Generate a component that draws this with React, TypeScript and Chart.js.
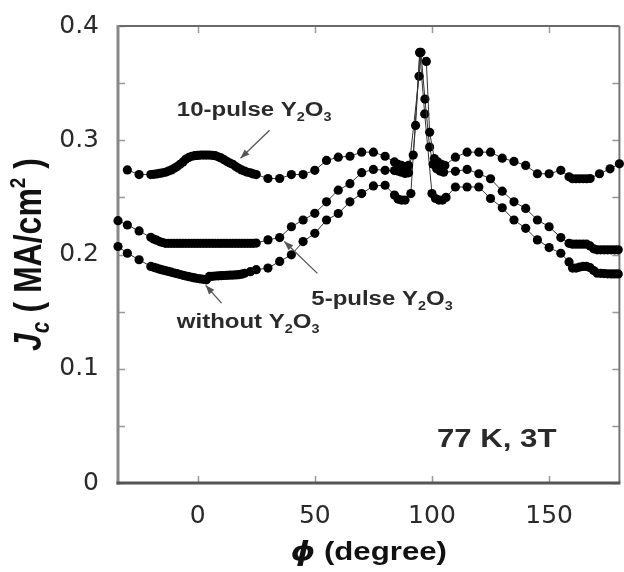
import React, { useEffect, useRef } from 'react';
import { Chart, registerables } from 'chart.js';

Chart.register(...registerables);

// ---------- data ----------
const phi10 = [-30, -25, -20, -18.75, -17.5, -16.25, -15, -13.75, -12.5, -11.25, -10, -8.75, -7.5, -6.25, -5, -3.75, -2.5, -1.25, 0, 1.25, 2.5, 3.75, 5, 6.25, 7.5, 8.75, 10, 11.25, 12.5, 13.75, 15, 16.25, 17.5, 18.75, 20, 21.25, 22.5, 23.75, 25, 30, 35, 40, 45, 50, 55, 60, 65, 70, 75, 80, 84, 85.5, 87, 88.5, 90, 92, 93, 94.8, 97.6, 99, 101, 102.5, 104, 105.5, 110, 115, 120, 125, 130, 135, 140, 145, 150, 155, 158.5, 160, 161.5, 163, 164.5, 166, 167.5, 171.5, 176, 180];
const jc10 = [0.274, 0.270, 0.270, 0.2702, 0.2705, 0.271, 0.2715, 0.272, 0.273, 0.274, 0.2755, 0.277, 0.279, 0.281, 0.2835, 0.285, 0.286, 0.2865, 0.2867, 0.287, 0.287, 0.287, 0.287, 0.2868, 0.2865, 0.2855, 0.2845, 0.283, 0.2815, 0.280, 0.279, 0.277, 0.2755, 0.274, 0.273, 0.272, 0.2715, 0.2705, 0.270, 0.2665, 0.2665, 0.270, 0.270, 0.2737, 0.2823, 0.2852, 0.286, 0.2896, 0.2896, 0.286, 0.281, 0.279, 0.278, 0.277, 0.278, 0.287, 0.313, 0.3765, 0.369, 0.307, 0.284, 0.281, 0.279, 0.278, 0.2852, 0.2896, 0.2896, 0.2896, 0.2843, 0.2815, 0.278, 0.2707, 0.2707, 0.2737, 0.268, 0.2663, 0.2663, 0.2663, 0.2663, 0.2663, 0.2665, 0.2707, 0.275, 0.2794];

const phi5 = [-34, -30, -25, -20, -18.75, -17.5, -16.25, -15, -13.75, -12.5, -11.25, -10, -8.75, -7.5, -6.25, -5, -3.75, -2.5, -1.25, 0, 1.25, 2.5, 3.75, 5, 6.25, 7.5, 8.75, 10, 11.25, 12.5, 13.75, 15, 16.25, 17.5, 18.75, 20, 21.25, 22.5, 23.75, 25, 30, 35, 40, 45, 50, 55, 60, 65, 70, 75, 80, 84, 85.5, 87, 88.5, 90, 94.5, 95.3, 97, 99, 100.5, 102, 103.5, 105, 110, 115, 120, 125, 130, 135, 140, 145, 150, 155, 158.5, 160, 161.5, 163, 164.5, 166, 167.5, 169, 170.5, 172, 173.5, 175, 176.5, 178, 179.5];
const jc5 = [0.2296, 0.2258, 0.2206, 0.215, 0.2135, 0.2125, 0.2113, 0.2105, 0.2098, 0.2098, 0.2098, 0.2098, 0.2098, 0.2098, 0.2098, 0.2098, 0.2098, 0.2098, 0.2098, 0.2098, 0.2098, 0.2098, 0.2098, 0.2098, 0.2098, 0.2098, 0.2098, 0.2098, 0.2098, 0.2098, 0.2098, 0.2098, 0.2098, 0.2098, 0.2098, 0.2098, 0.2098, 0.2098, 0.2098, 0.2100, 0.2128, 0.2148, 0.2243, 0.2302, 0.236, 0.2461, 0.2563, 0.262, 0.2716, 0.2745, 0.2737, 0.2735, 0.273, 0.272, 0.271, 0.2715, 0.356, 0.377, 0.336, 0.294, 0.279, 0.275, 0.273, 0.272, 0.2728, 0.2745, 0.2707, 0.2663, 0.2554, 0.2461, 0.2403, 0.2302, 0.2243, 0.2148, 0.2098, 0.209, 0.209, 0.209, 0.209, 0.209, 0.2075, 0.205, 0.2041, 0.2041, 0.2041, 0.2041, 0.2041, 0.2041, 0.2041];

const phi0 = [-34, -30, -25, -20, -18.75, -17.5, -16.25, -15, -13.75, -12.5, -11.25, -10, -8.75, -7.5, -6.25, -5, -3.75, -2.5, -1.25, 0, 1.25, 2.5, 3.75, 5, 6.25, 7.5, 8.75, 10, 11.25, 12.5, 13.75, 15, 16.25, 17.5, 18.75, 20, 22.5, 25, 30, 35, 40, 45, 50, 55, 60, 65, 70, 75, 80, 84, 85.5, 87, 88.5, 91, 94.8, 96.9, 100, 101.5, 103, 104.5, 106, 110, 115, 120, 125, 130, 135, 140, 145, 150, 155, 158.5, 160, 161.5, 163, 164.5, 166, 167.5, 169, 170.5, 172, 173.5, 175, 176.5, 178, 179.5];
const jc0 = [0.207, 0.2011, 0.1954, 0.1896, 0.1888, 0.188, 0.1872, 0.1865, 0.1858, 0.1852, 0.1845, 0.1838, 0.1832, 0.1825, 0.1818, 0.1812, 0.1806, 0.18, 0.1795, 0.179, 0.1786, 0.1783, 0.1778, 0.1808, 0.1809, 0.1812, 0.1813, 0.1815, 0.1816, 0.1818, 0.1819, 0.182, 0.1821, 0.1823, 0.1828, 0.1835, 0.185, 0.1867, 0.1881, 0.1939, 0.1997, 0.2113, 0.2185, 0.2302, 0.2359, 0.2461, 0.2533, 0.26, 0.2606, 0.252, 0.2485, 0.2476, 0.2476, 0.2533, 0.377, 0.323, 0.2533, 0.249, 0.2476, 0.2476, 0.250, 0.2591, 0.2591, 0.2591, 0.249, 0.2409, 0.2302, 0.2229, 0.2128, 0.2061, 0.2011, 0.1935, 0.1881, 0.1881, 0.1890, 0.1896, 0.1896, 0.1885, 0.186, 0.1837, 0.1835, 0.1833, 0.1831, 0.1830, 0.1830, 0.1830];

const xTickValues = [0, 50, 100, 150];
const yTickValues = [0, 0.1, 0.2, 0.3, 0.4];
const yMinorValues = [0.05, 0.15, 0.25, 0.35];
const X_MIN = -34;
const X_MAX = 180;

const toPoints = (xs: number[], ys: number[]) => xs.map((x, i) => ({ x, y: ys[i] }));

// ---------- drawing helpers ----------
type Run = { t: string; f: string; dy?: number };
const SANS = '"Liberation Sans", Arial, sans-serif';
const STRETCH = 1.2;

function runsWidth(ctx: CanvasRenderingContext2D, runs: Run[]) {
  let w = 0;
  for (const r of runs) {
    ctx.font = r.f;
    w += ctx.measureText(r.t).width;
  }
  return w;
}

function drawRuns(ctx: CanvasRenderingContext2D, runs: Run[], x: number, y: number, align: 'left' | 'center' = 'left') {
  ctx.save();
  ctx.translate(x, y);
  ctx.scale(STRETCH, 1);
  ctx.textBaseline = 'alphabetic';
  ctx.textAlign = 'left';
  let cx = align === 'center' ? -runsWidth(ctx, runs) / 2 : 0;
  for (const r of runs) {
    ctx.font = r.f;
    ctx.fillText(r.t, cx, r.dy || 0);
    cx += ctx.measureText(r.t).width;
  }
  ctx.restore();
}

function arrow(ctx: CanvasRenderingContext2D, x1: number, y1: number, x2: number, y2: number) {
  ctx.save();
  ctx.strokeStyle = '#555';
  ctx.fillStyle = '#555';
  ctx.lineWidth = 1.3;
  ctx.beginPath();
  ctx.moveTo(x1, y1);
  ctx.lineTo(x2, y2);
  ctx.stroke();
  const a = Math.atan2(y2 - y1, x2 - x1);
  const L = 9, H = 3.5;
  ctx.beginPath();
  ctx.moveTo(x2, y2);
  ctx.lineTo(x2 - L * Math.cos(a) + H * Math.sin(a), y2 - L * Math.sin(a) - H * Math.cos(a));
  ctx.lineTo(x2 - L * Math.cos(a) - H * Math.sin(a), y2 - L * Math.sin(a) + H * Math.cos(a));
  ctx.closePath();
  ctx.fill();
  ctx.restore();
}

const label = (main: string, size: number): Run[] => [
  { t: main + 'Y', f: `bold ${size}px ${SANS}` },
  { t: '2', f: `bold ${Math.round(size * 0.62)}px ${SANS}`, dy: 5 },
  { t: 'O', f: `bold ${size}px ${SANS}` },
  { t: '3', f: `bold ${Math.round(size * 0.62)}px ${SANS}`, dy: 5 },
];

const decorPlugin = {
  id: 'decor',
  beforeDatasetsDraw(chart: any) {
    const { ctx, chartArea: a, scales } = chart;
    const xs = scales.x, ys = scales.y;
    ctx.save();
    // inward tick marks
    ctx.strokeStyle = '#999';
    ctx.lineWidth = 1.5;
    ctx.beginPath();
    for (const v of xTickValues) {
      const px = Math.round(xs.getPixelForValue(v)) + 0.5;
      ctx.moveTo(px, a.bottom); ctx.lineTo(px, a.bottom - 7);
      ctx.moveTo(px, a.top); ctx.lineTo(px, a.top + 7);
    }
    for (const v of [...yTickValues, ...yMinorValues]) {
      const py = Math.round(ys.getPixelForValue(v)) + 0.5;
      ctx.moveTo(a.left, py); ctx.lineTo(a.left + 7, py);
      ctx.moveTo(a.right, py); ctx.lineTo(a.right - 7, py);
    }
    ctx.stroke();
    // frame
    const seg = (c: string, w: number, x1: number, y1: number, x2: number, y2: number) => {
      ctx.strokeStyle = c; ctx.lineWidth = w;
      ctx.beginPath(); ctx.moveTo(x1, y1); ctx.lineTo(x2, y2); ctx.stroke();
    };
    seg('#6a6a6a', 2, a.left, a.top, a.right, a.top);
    seg('#777', 2, a.right, a.top, a.right, a.bottom);
    seg('#888', 3, a.left, a.top - 1, a.left, a.bottom + 1.5);
    seg('#555', 3, a.left - 1.5, a.bottom, a.right + 1, a.bottom);
    ctx.restore();
  },
  afterDraw(chart: any) {
    const { ctx, chartArea: a, scales } = chart;
    const X = (v: number) => scales.x.getPixelForValue(v);
    const Y = (v: number) => scales.y.getPixelForValue(v);
    ctx.save();
    ctx.fillStyle = '#2a2a2a';

    // annotations (anchored in data coordinates)
    drawRuns(ctx, label('10-pulse ', 20), X(-8.9), Y(0.321));
    arrow(ctx, X(30.7), Y(0.3087), X(18.3), Y(0.2843));

    drawRuns(ctx, label('5-pulse ', 20), X(48.5), Y(0.156));
    arrow(ctx, X(51.1), Y(0.1835), X(37.0), Y(0.2113));

    drawRuns(ctx, label('without ', 20), X(-8.9), Y(0.1357));
    arrow(ctx, X(10.2), Y(0.1574), X(3.4), Y(0.173));

    drawRuns(ctx, [{ t: '77 K, 3T', f: `bold 26px ${SANS}` }], X(102.1), Y(0.0313));

    // x-axis title
    ctx.fillStyle = '#111';
    drawRuns(ctx, [
      { t: '\u03D5', f: 'italic bold 26px "DejaVu Sans", sans-serif' },
      { t: ' (degree)', f: `bold 26px ${SANS}` },
    ], (a.left + a.right) / 2, 560, 'center');

    // y-axis title (rotated)
    const yRuns: Run[] = [
      { t: 'J', f: `italic bold 32px ${SANS}` },
      { t: 'c', f: `italic bold 21px ${SANS}`, dy: 7 },
      { t: ' ( MA/cm', f: `bold 32px ${SANS}` },
      { t: '2', f: `bold 19px ${SANS}`, dy: -13 },
      { t: ' )', f: `bold 32px ${SANS}` },
    ];
    ctx.save();
    ctx.translate(41, (a.top + a.bottom) / 2);
    ctx.scale(STRETCH, 1);
    ctx.rotate(-Math.PI / 2);
    ctx.textBaseline = 'alphabetic';
    let cx = -runsWidth(ctx, yRuns) / 2;
    for (const r of yRuns) {
      ctx.font = r.f;
      ctx.fillText(r.t, cx, r.dy || 0);
      cx += ctx.measureText(r.t).width;
    }
    ctx.restore();
    ctx.restore();
  },
};

function makeDataset(xs: number[], ys: number[], name: string) {
  return {
    label: name,
    data: toPoints(xs, ys),
    showLine: true,
    borderColor: '#333',
    borderWidth: 1,
    pointRadius: 4.6,
    pointBackgroundColor: '#000',
    pointBorderWidth: 0,
    pointHoverRadius: 4.6,
    clip: 8,
  };
}

export default function App() {
  const ref = useRef<HTMLCanvasElement>(null);
  useEffect(() => {
    if (!ref.current) return;
    const chart = new Chart(ref.current, {
      type: 'scatter',
      data: {
        datasets: [
          makeDataset(phi10, jc10, '10-pulse Y2O3'),
          makeDataset(phi5, jc5, '5-pulse Y2O3'),
          makeDataset(phi0, jc0, 'without Y2O3'),
        ],
      },
      options: {
        animation: false,
        responsive: false,
        devicePixelRatio: 1,
        layout: { padding: { left: 0, right: 3, top: 23, bottom: 0 } },
        plugins: { legend: { display: false }, tooltip: { enabled: false }, title: { display: false } },
        events: [],
        scales: {
          x: {
            type: 'linear',
            min: X_MIN,
            max: X_MAX,
            grid: { display: false },
            border: { display: false },
            afterBuildTicks: (s: any) => { s.ticks = xTickValues.map((v) => ({ value: v })); },
            afterFit: (s: any) => { s.height = 89; },
            ticks: {
              padding: 10,
              color: '#2a2a2a',
              font: { family: '"DejaVu Sans", sans-serif', size: 25 },
              callback: (v: any) => String(v),
              maxRotation: 0,
            },
          },
          y: {
            type: 'linear',
            min: 0,
            max: 0.4,
            grid: { display: false },
            border: { display: false },
            afterBuildTicks: (s: any) => { s.ticks = yTickValues.map((v) => ({ value: v })); },
            afterFit: (s: any) => { s.width = 118; },
            ticks: {
              padding: 11,
              color: '#2a2a2a',
              font: { family: '"DejaVu Sans", sans-serif', size: 25 },
              callback: (v: any) => String(Math.round(Number(v) * 10) / 10),
            },
          },
        },
      },
      plugins: [decorPlugin],
    } as any);
    return () => chart.destroy();
  }, []);
  return (
    <div style={{ position: 'absolute', left: 0, top: 0, width: 624, height: 572, background: '#fff' }}>
      <canvas ref={ref} width={624} height={572} style={{ display: 'block', width: 624, height: 572 }} />
    </div>
  );
}
